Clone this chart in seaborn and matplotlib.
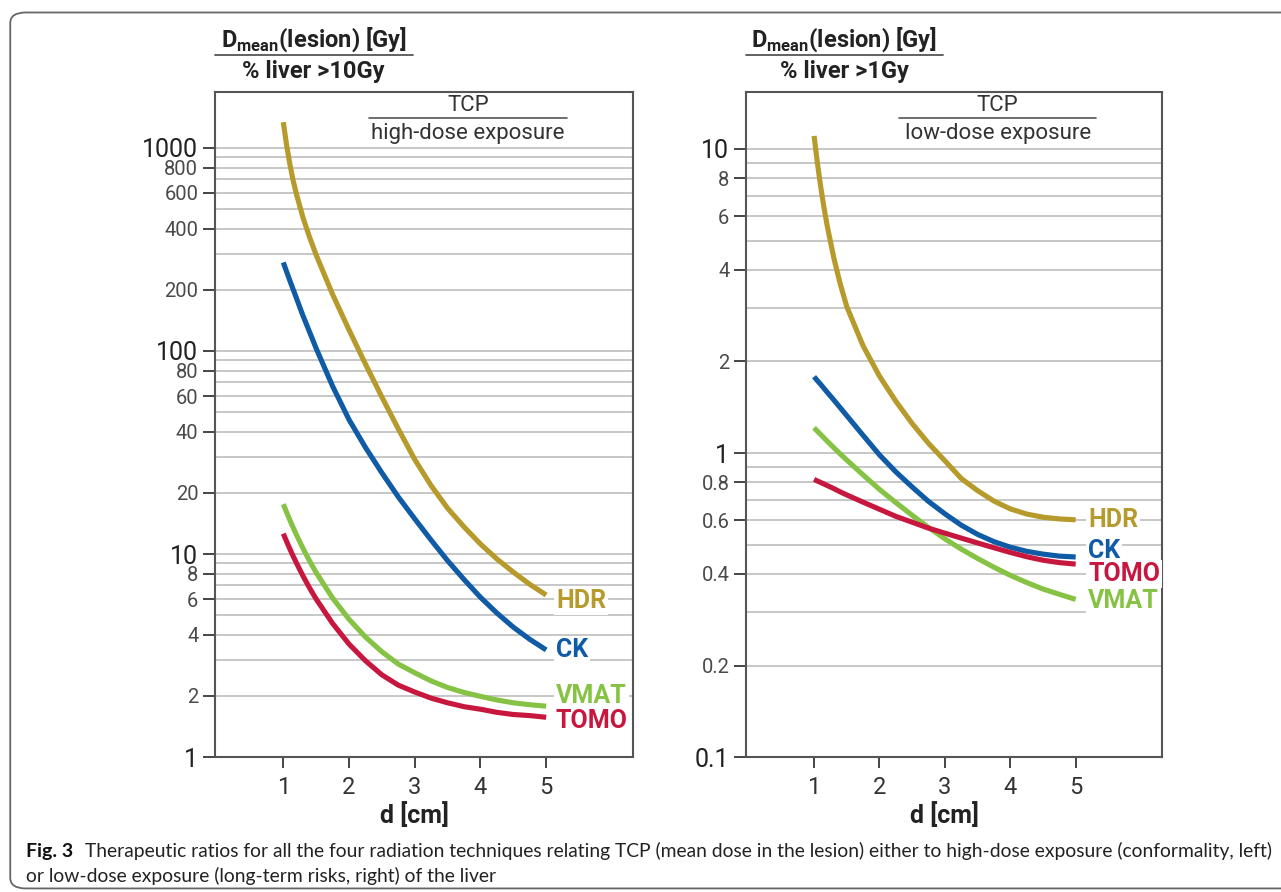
import matplotlib
matplotlib.use("Agg")
import matplotlib.pyplot as plt
from matplotlib.patches import FancyBboxPatch
from matplotlib.ticker import FixedLocator, NullFormatter
import pandas as pd
import seaborn as sns

techniques = ["HDR", "CK", "VMAT", "TOMO"]
colors = {"HDR": "#b69a2b", "CK": "#0f5ba6", "VMAT": "#86c344", "TOMO": "#c8173f"}

# lesion diameter d [cm] where the curves were read
d_cm = [1.0, 1.05, 1.1, 1.15, 1.2, 1.3, 1.4, 1.5, 1.75, 2.0, 2.25, 2.5, 2.75,
        3.0, 3.25, 3.5, 3.75, 4.0, 4.25, 4.5, 4.75, 5.0]

# left: Dmean(lesion) / %liver>10Gy
hdr_high = [1340, 1034, 831, 691, 592, 454, 363, 297, 190, 127, 86.2, 59.3, 41.3,
            29.2, 21.7, 16.8, 13.6, 11.2, 9.45, 8.14, 7.09, 6.28]
ck_high = [273, 246, 222, 201, 182, 149, 124, 103, 67.1, 45.9, 33.5, 25.1, 19.1,
           14.9, 11.7, 9.27, 7.49, 6.12, 5.12, 4.36, 3.80, 3.37]
vmat_high = [17.6, 16.05, 14.69, 13.49, 12.43, 10.65, 9.24, 8.10, 6.07, 4.77, 3.90,
             3.30, 2.87, 2.60, 2.37, 2.20, 2.08, 1.99, 1.91, 1.85, 1.81, 1.78]
tomo_high = [12.6, 11.53, 10.59, 9.76, 9.03, 7.79, 6.80, 6.00, 4.55, 3.60, 2.98,
             2.54, 2.26, 2.09, 1.95, 1.85, 1.77, 1.72, 1.66, 1.62, 1.60, 1.57]

# right: Dmean(lesion) / %liver>1Gy
hdr_low = [11.04, 9.03, 7.55, 6.44, 5.60, 4.40, 3.60, 3.03, 2.25, 1.79, 1.48, 1.25,
           1.076, 0.943, 0.825, 0.752, 0.695, 0.655, 0.630, 0.615, 0.607, 0.603]
ck_low = [1.782, 1.730, 1.683, 1.633, 1.585, 1.496, 1.409, 1.327, 1.143, 0.986, 0.867,
          0.773, 0.693, 0.631, 0.579, 0.540, 0.511, 0.490, 0.475, 0.465, 0.458, 0.455]
vmat_low = [1.211, 1.180, 1.151, 1.122, 1.094, 1.042, 0.993, 0.948, 0.847, 0.759, 0.687,
            0.624, 0.569, 0.522, 0.483, 0.450, 0.421, 0.396, 0.375, 0.357, 0.343, 0.330]
tomo_low = [0.819, 0.809, 0.800, 0.791, 0.782, 0.764, 0.745, 0.728, 0.689, 0.653, 0.619,
            0.592, 0.566, 0.545, 0.525, 0.506, 0.488, 0.471, 0.456, 0.444, 0.436, 0.431]

left_major = [1, 2, 4, 6, 8, 10, 20, 40, 60, 80, 100, 200, 400, 600, 800, 1000]
left_minor = [3, 5, 7, 9, 30, 50, 70, 90, 300, 500, 700, 900]
left_big = [1, 10, 100, 1000]
right_major = [0.1, 0.2, 0.4, 0.6, 0.8, 1, 2, 4, 6, 8, 10]
right_minor = [0.3, 0.5, 0.7, 0.9, 3, 5, 7, 9]
right_big = [0.1, 1, 10]


def make_df(hdr, ck, vmat, tomo):
    frames = []
    for name, vals in [("HDR", hdr), ("CK", ck), ("VMAT", vmat), ("TOMO", tomo)]:
        frames.append(pd.DataFrame({"d": d_cm, "ratio": vals, "technique": name}))
    return pd.concat(frames, ignore_index=True)


df_high = make_df(hdr_high, ck_high, vmat_high, tomo_high)
df_low = make_df(hdr_low, ck_low, vmat_low, tomo_low)

sns.set_style("white")
plt.rcParams["font.family"] = ["Roboto", "DejaVu Sans"]

fig = plt.figure(figsize=(12.81, 8.92), dpi=100)
ax1 = fig.add_axes([0.1678, 0.1513, 0.3263, 0.7456])
ax2 = fig.add_axes([0.5824, 0.1513, 0.3247, 0.7456])

panels = [
    (ax1, df_high, (1, 1887), left_major, left_minor, left_big,
     "% liver >10Gy", "high-dose exposure",
     {"HDR": (7, -4), "CK": (7, 0), "VMAT": (7, 7), "TOMO": (7, -3)}),
    (ax2, df_low, (0.1, 15.4), right_major, right_minor, right_big,
     "% liver >1Gy", "low-dose exposure",
     {"HDR": (9, 0), "CK": (9, 4), "VMAT": (9, -1), "TOMO": (9, -7)}),
]

for ax, df, ylim, major, minor, big, denom, sub, offsets in panels:
    sns.lineplot(data=df, x="d", y="ratio", hue="technique", palette=colors,
                 hue_order=techniques, estimator=None, sort=False,
                 linewidth=3.7, legend=False, ax=ax, solid_capstyle="butt", zorder=3)
    ax.set_yscale("log")
    ax.set_xlim(-0.04, 6.32)
    ax.set_ylim(*ylim)
    ax.yaxis.set_major_locator(FixedLocator(major))
    ax.yaxis.set_minor_locator(FixedLocator(minor))
    ax.yaxis.set_minor_formatter(NullFormatter())
    ax.set_yticklabels([("%g" % v) for v in major])
    for lab, v in zip(ax.get_yticklabels(), major):
        if v in big:
            lab.set_fontsize(18)
            lab.set_color("#222222")
        else:
            lab.set_fontsize(14.5)
            lab.set_color("#4a4a4a")
    ax.set_xticks([1, 2, 3, 4, 5])
    ax.set_xticklabels(["1", "2", "3", "4", "5"], fontsize=17, color="#333333")
    ax.tick_params(axis="y", which="major", direction="out", length=9, width=1.4,
                   color="#444444", left=True, pad=3)
    ax.tick_params(axis="y", which="minor", length=0)
    ax.tick_params(axis="x", direction="out", length=8, width=1.4, color="#444444",
                   bottom=True, pad=6)
    ax.grid(axis="y", which="both", color="#b8b8b8", linewidth=1.1)
    ax.grid(axis="x", visible=False)
    ax.set_axisbelow(True)
    for s in ax.spines.values():
        s.set_color("#555555")
        s.set_linewidth(1.5)
    ax.set_xlabel("")
    ax.set_ylabel("")
    ax.text(3, -0.087, "d [cm]", transform=ax.get_xaxis_transform(), ha="center",
            va="center", fontsize=18, fontweight="bold", color="#222222")

    # series labels at the end of each curve
    for tech in techniques:
        last = df[df.technique == tech].iloc[-1]
        ax.annotate(tech, (last.d, last.ratio), xytext=offsets[tech],
                    textcoords="offset points", ha="left", va="center",
                    fontsize=18, fontweight="bold", color=colors[tech], zorder=4,
                    bbox=dict(boxstyle="square,pad=0.08", fc="white", ec="none"))

    # y axis "fraction" title above the axes
    ax.text(0.236, 1.079, r"D$_{\mathregular{mean}}$(lesion) [Gy]", transform=ax.transAxes,
            ha="center", va="center", fontsize=17, fontweight="bold", color="#222222")
    ax.plot([0, 0.473], [1.0556, 1.0556], transform=ax.transAxes, color="#555555",
            lw=1.3, clip_on=False)
    ax.text(0.236, 1.031, denom, transform=ax.transAxes, ha="center", va="center",
            fontsize=17, fontweight="bold", color="#222222")

    # TCP / exposure label inside the axes
    ax.text(0.605, 0.980, "TCP", transform=ax.transAxes, ha="center", va="center",
            fontsize=16, color="#333333")
    ax.plot([0.368, 0.842], [0.961, 0.961], transform=ax.transAxes, color="#555555",
            lw=1.2)
    ax.text(0.605, 0.938, sub, transform=ax.transAxes, ha="center", va="center",
            fontsize=16, color="#333333")

# frame around the figure
frame = FancyBboxPatch((0.008, 0.004), 1.1, 0.982, boxstyle="round,pad=0,rounding_size=0.012",
                       transform=fig.transFigure, fc="none", ec="#666666", lw=1.3)
fig.add_artist(frame)

# caption
cap_font = ["Lato", "DejaVu Sans"]
cap1 = fig.text(0.0203, 0.0392, "Fig. 3", fontsize=14, fontweight="bold",
                family=cap_font, color="#111111", va="baseline")
fig.canvas.draw()
bb = cap1.get_window_extent(fig.canvas.get_renderer())
x_next = (bb.x1 + 12) / fig.bbox.width
fig.text(x_next, 0.0392,
         "Therapeutic ratios for all the four radiation techniques relating TCP (mean dose in the lesion) "
         "either to high-dose exposure (conformality, left)",
         fontsize=13.9, family=cap_font, color="#222222", va="baseline")
fig.text(0.0203, 0.0112, "or low-dose exposure (long-term risks, right) of the liver",
         fontsize=13.9, family=cap_font, color="#222222", va="baseline")

fig.savefig("out.png", dpi=100, facecolor="white")
